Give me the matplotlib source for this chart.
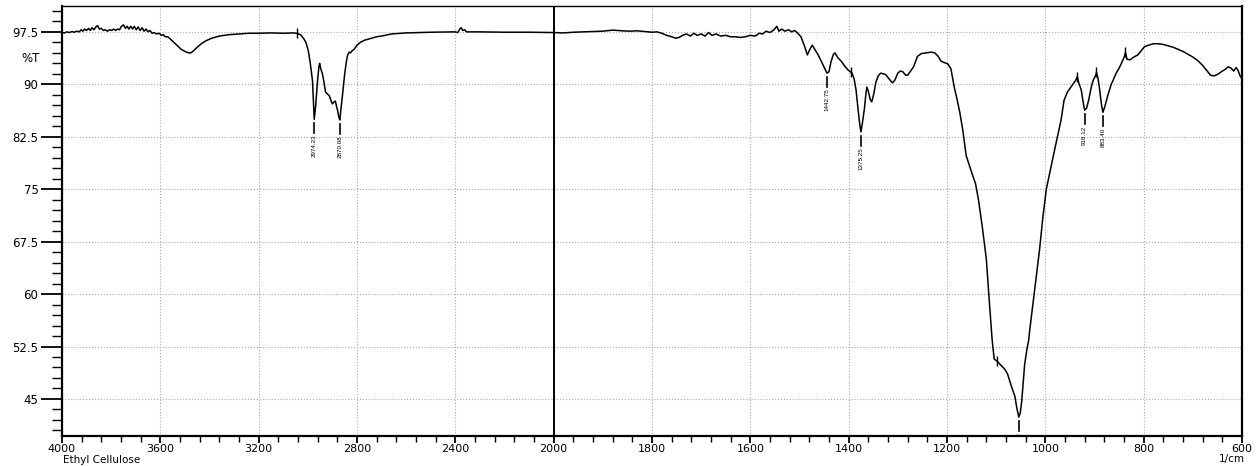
import numpy as np
import matplotlib
matplotlib.use('Agg')
import matplotlib.pyplot as plt
from matplotlib.ticker import FixedLocator, NullFormatter

# 光谱数据：波数 (1/cm) 与透过率 (%T)
wavenumber = [
    4000, 3990, 3980, 3970, 3960, 3950, 3940, 3930, 3922, 3915, 3908, 3900,
    3892, 3885, 3878, 3870, 3862, 3855, 3848, 3840, 3832, 3824, 3815, 3806,
    3798, 3790, 3782, 3774, 3766, 3758, 3750, 3742, 3735, 3728, 3720, 3713,
    3706, 3698, 3690, 3682, 3674, 3666, 3658, 3650, 3642, 3634, 3625, 3615,
    3605, 3595, 3588, 3580, 3570, 3560, 3545, 3530, 3515, 3500, 3485, 3475,
    3465, 3450, 3430, 3410, 3390, 3360, 3320, 3280, 3240, 3200, 3150, 3100,
    3060, 3046, 3030, 3018, 3008, 2998, 2990, 2981, 2977, 2974, 2968, 2961,
    2955, 2952, 2947, 2940, 2933, 2928, 2920, 2913, 2905, 2900, 2893, 2888,
    2883, 2879, 2874, 2870, 2865, 2858, 2850, 2843, 2838, 2832, 2826, 2820,
    2812, 2800, 2786, 2770, 2750, 2720, 2700, 2660, 2600, 2500, 2420, 2400,
    2390, 2382, 2376, 2370, 2362, 2355, 2300, 2200, 2100, 2000,
    1980, 1960, 1940, 1920, 1900, 1880, 1870, 1860, 1845, 1830, 1815, 1800,
    1790, 1780, 1770, 1760, 1752, 1745, 1738, 1730, 1722, 1715, 1708, 1700,
    1692, 1685, 1678, 1670, 1660, 1650, 1640, 1630, 1620, 1610, 1600, 1590,
    1582, 1575, 1568, 1560, 1552, 1546, 1542, 1536, 1530, 1522, 1516, 1510,
    1505, 1497, 1490, 1484, 1479, 1474, 1469, 1462, 1455, 1449, 1444, 1440,
    1436, 1431, 1428, 1422, 1415, 1408, 1402, 1397, 1393, 1389, 1385, 1381,
    1377, 1375, 1372, 1368, 1365, 1363, 1360, 1356, 1353, 1349, 1345, 1340,
    1335, 1325, 1318, 1311, 1306, 1300, 1295, 1290, 1284, 1280, 1275, 1268,
    1260, 1252, 1242, 1232, 1225, 1218, 1212, 1205, 1198, 1192, 1185, 1180,
    1174, 1168, 1161, 1155, 1148, 1142, 1136, 1128, 1120, 1114, 1108, 1104,
    1098, 1090, 1083, 1077, 1068, 1062, 1058, 1054, 1051, 1048, 1042, 1037,
    1034, 1032, 1022, 1012, 1005, 998, 990, 980, 968, 962, 955, 945,
    938, 935, 932, 927, 922, 920, 916, 912, 906, 902, 898, 896,
    893, 890, 886, 883, 879, 873, 866, 862, 856, 850, 844, 839,
    837, 834, 828, 820, 812, 805, 798, 790, 780, 770, 760, 750,
    740, 730, 720, 710, 700, 690, 680, 672, 664, 657, 650, 642,
    635, 628, 622, 617, 612, 608, 604, 600,
]
transmittance = [
    97.4, 97.35, 97.5, 97.4, 97.55, 97.45, 97.6, 97.5, 97.8, 97.6, 97.9, 97.7,
    98.0, 97.7, 98.1, 97.8, 98.2, 98.4, 97.9, 98.0, 97.7, 97.8, 97.6, 97.8,
    97.7, 97.9, 97.7, 97.9, 97.8, 98.3, 98.5, 98.0, 98.3, 97.9, 98.3, 97.9,
    98.3, 97.8, 98.2, 97.7, 98.1, 97.6, 97.9, 97.5, 97.7, 97.3, 97.4, 97.2,
    97.3, 97.0, 97.1, 96.8, 96.8, 96.5, 96.0, 95.5, 95.0, 94.7, 94.5, 94.5,
    94.8, 95.3, 95.9, 96.3, 96.6, 96.9, 97.1, 97.2, 97.3, 97.3, 97.35, 97.3,
    97.35, 97.3, 97.1, 96.6, 96.0, 94.8, 93.0, 90.5, 87.5, 85.0, 87.0, 90.3,
    92.5, 93.0, 92.2, 91.4, 90.0, 88.9, 88.6, 88.4, 87.6, 87.2, 87.5, 87.6,
    86.8, 86.3, 85.3, 84.9, 86.5, 88.8, 91.5, 93.3, 94.2, 94.6, 94.5, 94.8,
    95.0, 95.6, 96.0, 96.3, 96.5, 96.8, 96.9, 97.2, 97.35, 97.45, 97.5, 97.5,
    97.4, 97.9, 98.1, 97.7, 97.8, 97.5, 97.5, 97.45, 97.45, 97.4,
    97.35, 97.45, 97.5, 97.55, 97.6, 97.75, 97.7, 97.65, 97.6, 97.65, 97.55, 97.45,
    97.5, 97.3, 97.0, 96.8, 96.6, 96.7, 97.0, 97.2, 96.9, 97.3, 97.0, 97.2,
    96.9, 97.4, 97.0, 97.2, 96.9, 97.0, 96.8, 96.8, 96.7, 96.8, 97.0, 96.9,
    97.3, 97.2, 97.6, 97.4, 97.8, 98.3, 97.6, 97.9, 97.6, 97.8, 97.5, 97.7,
    97.4, 96.8, 95.5, 94.2, 95.0, 95.6, 95.0, 94.2, 93.2, 92.3, 91.6, 91.8,
    93.2, 94.3, 94.5, 93.8, 93.3, 92.6, 92.1, 91.8, 91.6, 90.8, 89.2, 86.5,
    84.0, 83.2, 84.5, 86.5, 88.6, 89.6, 89.0, 87.8, 87.5, 88.6, 90.2, 91.2,
    91.6, 91.4, 90.8, 90.2, 90.6, 91.6, 91.9, 91.8, 91.3, 91.3, 91.8, 92.5,
    94.0, 94.4, 94.5, 94.6, 94.5, 94.0, 93.3, 93.1, 92.9, 92.2, 89.5, 88.0,
    86.0, 83.5, 79.8, 78.5, 77.0, 75.8, 73.5, 69.5, 65.0, 59.0, 53.3, 50.7,
    50.4, 49.8, 49.3, 48.6, 46.6, 45.4, 43.7, 42.4, 43.0, 44.7, 50.0, 52.3,
    53.3, 54.7, 60.5, 66.2, 71.0, 75.0, 77.7, 81.0, 84.9, 87.7, 88.9, 89.9,
    90.6, 91.1, 90.2, 89.2, 87.0, 86.3, 86.6, 87.7, 89.8, 90.7, 91.2, 91.7,
    90.9, 89.5, 87.2, 86.0, 86.8, 88.4, 90.0, 90.6, 91.6, 92.3, 93.2, 94.0,
    94.6, 93.6, 93.5, 93.9, 94.2, 94.8, 95.4, 95.6, 95.8, 95.8, 95.7, 95.5,
    95.3, 95.0, 94.7, 94.3, 93.9, 93.4, 92.7, 92.0, 91.3, 91.2, 91.4, 91.8,
    92.1, 92.5, 92.3, 91.9, 92.4, 92.0, 91.2, 90.8,
]

# 峰位标注
peak_wn = [2974, 2870, 1444, 1375, 1054, 920, 883]
peak_text = ['2974.23', '2870.08', '1442.75', '1375.25', '1053.13', '918.12', '883.40']

# 曲线上的小竖线标记
mark_wn = [3046, 1395, 1098, 935, 896, 837]

x_major = [4000, 3600, 3200, 2800, 2400, 2000, 1800, 1600, 1400, 1200, 1000, 800, 600]
y_major = [45, 52.5, 60, 67.5, 75, 82.5, 90, 97.5]


def to_u(wn):
    # 2000 以上压缩一半，2000 以下按原比例
    wn = np.asarray(wn, dtype=float)
    return np.where(wn >= 2000, (4000 - wn) / 2, 3000 - wn)


plt.rcParams['font.family'] = ['DejaVu Sans']
fig = plt.figure(figsize=(12.58, 4.66), dpi=100)
ax = fig.add_axes([62 / 1258, 30 / 466, 1180 / 1258, 430 / 466])

wn = np.array(wavenumber, dtype=float)
tr = np.array(transmittance, dtype=float)
u = to_u(wn)
ax.plot(u, tr, color='black', lw=1.1, zorder=3)

# 小竖线标记
mu = to_u(mark_wn)
mt = np.interp(mu, u, tr)
ax.plot(mu, mt, linestyle='none', marker='|', color='black', ms=7, mew=1.0, zorder=4)

# 峰位竖线和文字
for p, s in zip(peak_wn, peak_text):
    pu = float(to_u(p))
    pt = float(np.interp(pu, u, tr))
    ax.plot([pu, pu], [pt - 0.6, pt - 2.0], color='black', lw=1.2, zorder=4)
    ax.text(pu, pt - 2.2, s, rotation=90, ha='center', va='top', fontsize=4.5,
            family='Liberation Sans', clip_on=True, zorder=4)

# 2000 处的分隔线
ax.axvline(float(to_u(2000)), color='black', lw=1.4, zorder=5)

ax.set_xlim(0, 2400)
ax.set_ylim(39.7, 101.2)

ax.xaxis.set_major_locator(FixedLocator(to_u(x_major)))
ax.set_xticklabels([str(v) for v in x_major])
ax.xaxis.set_minor_locator(FixedLocator(np.arange(0, 2401, 40)))
ax.yaxis.set_major_locator(FixedLocator(y_major))
ax.set_yticklabels([str(int(v)) if v == int(v) else str(v) for v in y_major])
ax.yaxis.set_minor_locator(FixedLocator(np.arange(39.0, 101.5, 1.5)))
ax.yaxis.set_minor_formatter(NullFormatter())

ax.tick_params(axis='y', which='major', length=15, width=1.3, direction='out', pad=2, labelsize=8.5)
ax.tick_params(axis='y', which='minor', length=7.5, width=1.0, direction='out')
ax.tick_params(axis='x', which='major', length=5, width=1.3, direction='out', pad=0.5, labelsize=8)
ax.tick_params(axis='x', which='minor', length=4, width=1.0, direction='out')

ax.grid(which='major', linestyle=':', color='#a8a8a8', lw=0.8)
for side in ['left', 'bottom', 'right']:
    ax.spines[side].set_linewidth(1.6)
ax.spines['top'].set_linewidth(1.0)

ax.text(-0.0185, 93.75, '%T', transform=ax.get_yaxis_transform(), ha='right', va='center', fontsize=8.5)

fig.text(63 / 1258, 1 - 460 / 466, 'Ethyl Cellulose', ha='left', va='center', fontsize=7.5)
fig.text(1245 / 1258, 1 - 459 / 466, '1/cm', ha='right', va='center', fontsize=7.5)

plt.savefig('out.png', dpi=100)
